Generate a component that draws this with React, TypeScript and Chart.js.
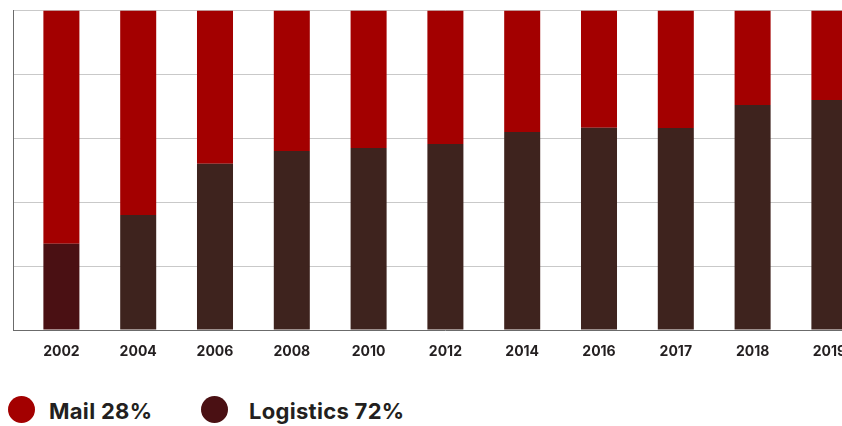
import React, { useEffect, useRef } from "react";
import { Chart, registerables } from "chart.js";

Chart.register(...registerables);

const categories = ["2002", "2004", "2006", "2008", "2010", "2012", "2014", "2016", "2017", "2018", "2019"];
const logisticsValues = [27, 36, 52, 56, 57, 58.2, 62, 63.3, 63.2, 70.4, 72];
const mailValues = [73, 64, 48, 44, 43, 41.8, 38, 36.7, 36.8, 29.6, 28];
const logisticsBarColors = ["#4a1013", "#3e231e", "#3e231e", "#3e231e", "#3e231e", "#3e231e", "#3e231e", "#3e231e", "#3e231e", "#3e231e", "#3e231e"];
const mailColor = "#a30000";
const logisticsColor = "#4a1013";
const yTicks = [0, 20, 40, 60, 80, 100];

const FONT = "Inter, 'Noto Sans', sans-serif";
const TEXT = "#231f20";

const leftLine = {
  id: "leftLine",
  afterDraw(chart: any) {
    const { ctx, scales, chartArea } = chart;
    const x = Math.round(scales.y.left) + 0.5;
    ctx.save();
    ctx.strokeStyle = "#6b6b6b";
    ctx.lineWidth = 1;
    ctx.beginPath();
    ctx.moveTo(x, chartArea.top - 0.5);
    ctx.lineTo(x, chartArea.bottom + 0.5);
    ctx.stroke();
    ctx.restore();
  },
};

export default function App() {
  const ref = useRef<HTMLCanvasElement | null>(null);
  useEffect(() => {
    if (!ref.current) return;
    const chart = new Chart(ref.current, {
      type: "bar",
      data: {
        labels: categories,
        datasets: [
          {
            label: "Logistics",
            data: logisticsValues,
            backgroundColor: logisticsBarColors,
            borderWidth: 0,
            barPercentage: 0.469,
            categoryPercentage: 1,
          },
          {
            label: "Mail",
            data: mailValues,
            backgroundColor: mailColor,
            borderWidth: 0,
            barPercentage: 0.469,
            categoryPercentage: 1,
          },
        ],
      },
      options: {
        animation: false,
        responsive: false,
        maintainAspectRatio: false,
        layout: { padding: { left: 13, top: 10.5, right: 12.2, bottom: 10.2 } },
        plugins: { legend: { display: false }, tooltip: { enabled: false } },
        scales: {
          x: {
            stacked: true,
            grid: { display: false, drawTicks: false },
            border: { display: false },
            ticks: {
              padding: 13,
              color: TEXT,
              font: { family: FONT, size: 14, weight: "bold" },
            },
          },
          y: {
            stacked: true,
            min: 0,
            max: 100,
            afterBuildTicks: (scale: any) => {
              scale.ticks = yTicks.map((v) => ({ value: v }));
            },
            grid: {
              drawTicks: true,
              tickLength: 10,
              color: (c: any) => (c.tick && c.tick.value === 0 ? "#6b6b6b" : "#c9c9c9"),
              lineWidth: 1,
            },
            border: { display: false },
            ticks: { display: false },
          },
        },
      },
      plugins: [leftLine],
    });
    return () => chart.destroy();
  }, []);

  const legendItems = [
    { label: `Mail ${mailValues[mailValues.length - 1]}%`, color: mailColor, x: 8, tx: 49 },
    { label: `Logistics ${logisticsValues[logisticsValues.length - 1]}%`, color: logisticsColor, x: 201, tx: 249 },
  ];

  return (
    <div style={{ position: "absolute", left: 0, top: 0, width: 842, height: 426, overflow: "hidden", background: "#fff" }}>
      <canvas ref={ref} width={880} height={383} style={{ position: "absolute", left: 0, top: 0, width: 880, height: 383 }} />
      {legendItems.map((it) => (
        <React.Fragment key={it.label}>
          <div style={{ position: "absolute", left: it.x, top: 396, width: 27, height: 27, borderRadius: "50%", background: it.color }} />
          <div style={{ position: "absolute", left: it.tx, top: 397, height: 28, lineHeight: "28px", fontFamily: FONT, fontWeight: 700, fontSize: 22, letterSpacing: 0.3, color: TEXT, whiteSpace: "nowrap" }}>
            {it.label}
          </div>
        </React.Fragment>
      ))}
    </div>
  );
}
